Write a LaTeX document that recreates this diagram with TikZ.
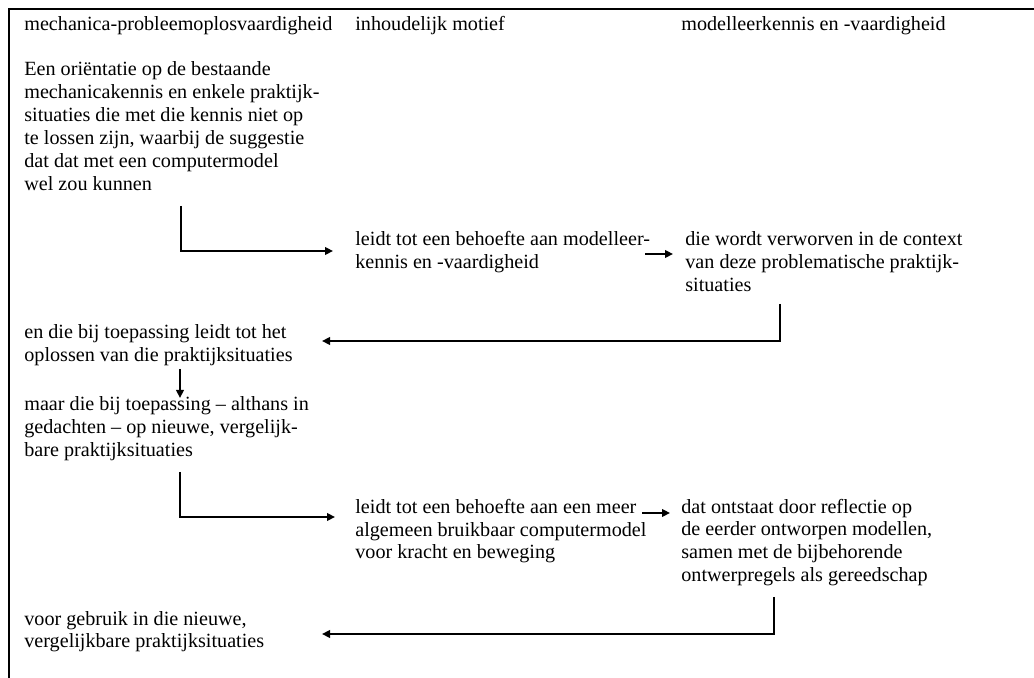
\documentclass[tikz,border=0pt]{standalone}
\usepackage{fontspec}
\setmainfont{Liberation Serif}
\usetikzlibrary{arrows.meta}
\begin{document}
\begin{tikzpicture}[x=0.6pt,y=-0.6pt,
  txt/.style={anchor=base west,inner sep=0pt,align=left,font=\fontsize{12.1pt}{13.8pt}\selectfont},
  conn/.style={line width=0.9pt,-{Triangle[length=4.8pt,width=4.6pt]}},
  frame/.style={line width=1.3pt}]
\useasboundingbox (0,0) rectangle (1034,678);
% frame (left and top edges)
\coordinate (fbl) at (9,678);
\coordinate (ftl) at (9,9);
\coordinate (ftr) at (1034,9);
\draw[frame] (fbl) -- (ftl) -- (ftr);
% headings (anchor at baseline)
\node[txt] (h1) at (24,30.5) {mechanica-probleemoplosvaardigheid};
\node[txt] (h2) at (355,30.5) {inhoudelijk motief};
\node[txt] (h3) at (681,30.5) {modelleerkennis en -vaardigheid};
% texts (anchor at baseline of the last line)
\node[txt] (p1) at (24,191) {Een oriëntatie op de bestaande\\mechanicakennis en enkele praktijk-\\situaties die met die kennis niet op\\te lossen zijn, waarbij de suggestie\\dat dat met een computermodel\\wel zou kunnen};
\node[txt] (l1) at (355,269) {leidt tot een behoefte aan modelleer-\\kennis en -vaardigheid};
\node[txt] (r1) at (685,292) {die wordt verworven in de context\\van deze problematische praktijk-\\situaties};
\node[txt] (p2) at (24,362) {en die bij toepassing leidt tot het\\oplossen van die praktijksituaties};
\node[txt] (p3) at (24,457) {maar die bij toepassing – althans in\\gedachten – op nieuwe, vergelijk-\\bare praktijksituaties};
\node[txt] (l2) at (355,559) {leidt tot een behoefte aan een meer\\algemeen bruikbaar computermodel\\voor kracht en beweging};
\node[txt] (r2) at (681,582) {dat ontstaat door reflectie op\\de eerder ontworpen modellen,\\samen met de bijbehorende\\ontwerpregels als gereedschap};
\node[txt] (p4) at (24,648) {voor gebruik in die nieuwe,\\vergelijkbare praktijksituaties};
% connector end points
\coordinate (a1s) at (181,206);
\coordinate (a1e) at (333,251);
\coordinate (a2s) at (645,254);
\coordinate (a2e) at (673,254);
\coordinate (a3s) at (780,304);
\coordinate (a3e) at (322,341);
\coordinate (a4s) at (180,369);
\coordinate (a4e) at (180,398);
\coordinate (a5s) at (180,472);
\coordinate (a5e) at (335,517);
\coordinate (a6s) at (642,513);
\coordinate (a6e) at (670,513);
\coordinate (a7s) at (774,597);
\coordinate (a7e) at (322,634);
% connectors
\draw[conn] (a1s) |- (a1e);
\draw[conn] (a2s) -- (a2e);
\draw[conn] (a3s) |- (a3e);
\draw[conn] (a4s) -- (a4e);
\draw[conn] (a5s) |- (a5e);
\draw[conn] (a6s) -- (a6e);
\draw[conn] (a7s) |- (a7e);
\end{tikzpicture}
\end{document}
